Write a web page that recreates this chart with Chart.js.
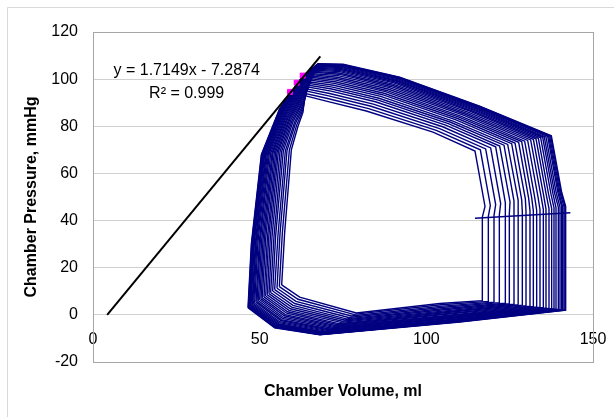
<!DOCTYPE html>
<html>
<head>
<meta charset="utf-8">
<script src="https://cdn.jsdelivr.net/npm/chart.js@4.4.0/dist/chart.umd.min.js"></script>
<style>
  html, body { margin: 0; padding: 0; background: #fff; }
</style>
</head>
<body>
<canvas id="pvChart" width="614" height="417"></canvas>
<script>
// PV loops during the occlusion, largest (outer) first
const loopVolumes = [
  [46.5, 54.5, 68.0, 110.0, 141.8, 141.8, 140.6, 137.5, 116.0, 92.0, 75.0, 67.5, 63.0, 56.0, 50.5, 47.5, 46.5],
  [46.6, 54.6, 68.1, 109.9, 141.6, 141.6, 140.4, 137.3, 115.9, 91.9, 75.0, 67.5, 63.0, 56.1, 50.6, 47.6, 46.6],
  [46.7, 54.7, 68.2, 109.9, 141.3, 141.3, 140.1, 137.0, 115.7, 91.8, 74.9, 67.4, 63.0, 56.1, 50.7, 47.7, 46.7],
  [46.9, 54.8, 68.4, 109.8, 140.9, 140.9, 139.8, 136.7, 115.5, 91.7, 74.8, 67.4, 63.0, 56.2, 50.8, 47.9, 46.9],
  [47.0, 54.9, 68.6, 109.7, 140.6, 140.6, 139.5, 136.4, 115.3, 91.5, 74.8, 67.3, 63.0, 56.3, 51.0, 48.0, 47.0],
  [47.2, 55.0, 68.8, 109.6, 140.1, 140.1, 139.0, 135.9, 115.0, 91.3, 74.7, 67.2, 63.0, 56.4, 51.1, 48.2, 47.2],
  [47.4, 55.2, 69.0, 109.5, 139.6, 139.6, 138.5, 135.4, 114.7, 91.1, 74.6, 67.1, 63.0, 56.5, 51.3, 48.4, 47.4],
  [47.7, 55.4, 69.3, 109.3, 138.9, 138.9, 138.0, 134.9, 114.4, 90.9, 74.4, 67.0, 63.0, 56.6, 51.5, 48.7, 47.7],
  [47.9, 55.6, 69.5, 109.2, 138.3, 138.3, 137.4, 134.3, 114.0, 90.6, 74.3, 66.9, 63.0, 56.8, 51.8, 48.9, 47.9],
  [48.2, 55.8, 69.9, 109.0, 137.6, 137.6, 136.7, 133.6, 113.6, 90.3, 74.2, 66.8, 63.0, 56.9, 52.0, 49.2, 48.2],
  [48.5, 56.0, 70.2, 108.8, 136.8, 136.8, 136.0, 132.9, 113.2, 90.0, 74.0, 66.7, 63.0, 57.1, 52.3, 49.5, 48.5],
  [48.9, 56.3, 70.6, 108.6, 135.9, 135.9, 135.2, 132.1, 112.7, 89.7, 73.8, 66.6, 63.0, 57.3, 52.6, 49.9, 48.9],
  [49.2, 56.5, 71.0, 108.4, 135.1, 135.1, 134.4, 131.3, 112.2, 89.3, 73.7, 66.4, 63.0, 57.5, 52.9, 50.2, 49.2],
  [49.6, 56.8, 71.4, 108.1, 134.1, 134.1, 133.5, 130.4, 111.7, 88.9, 73.5, 66.3, 63.0, 57.7, 53.3, 50.6, 49.6],
  [50.0, 57.1, 71.9, 107.9, 133.1, 133.1, 132.5, 129.5, 111.1, 88.5, 73.3, 66.1, 63.0, 57.9, 53.7, 51.0, 50.0],
  [50.4, 57.4, 72.3, 107.7, 132.1, 132.1, 131.6, 128.6, 110.5, 88.1, 73.1, 65.9, 63.0, 58.1, 54.0, 51.4, 50.4],
  [50.8, 57.7, 72.7, 107.4, 131.1, 131.1, 130.7, 127.7, 110.0, 87.7, 72.9, 65.8, 63.0, 58.4, 54.4, 51.8, 50.8],
  [51.3, 58.1, 73.2, 107.2, 129.9, 129.9, 129.7, 126.6, 109.4, 87.3, 72.6, 65.6, 63.0, 58.6, 54.8, 52.3, 51.3],
  [51.8, 58.4, 73.7, 106.9, 128.8, 128.8, 128.6, 125.6, 108.7, 86.8, 72.4, 65.4, 63.0, 58.9, 55.2, 52.7, 51.8],
  [52.3, 58.8, 74.3, 106.6, 127.6, 127.6, 127.5, 124.4, 108.0, 86.3, 72.2, 65.2, 63.0, 59.1, 55.6, 53.2, 52.3],
  [52.8, 59.2, 74.8, 106.3, 126.3, 126.3, 126.3, 123.3, 107.3, 85.8, 71.9, 65.0, 63.0, 59.4, 56.1, 53.7, 52.8],
  [53.3, 59.6, 75.4, 106.0, 124.9, 124.9, 125.1, 122.0, 106.6, 85.3, 71.6, 64.8, 63.0, 59.7, 56.6, 54.3, 53.3],
  [53.9, 60.0, 76.0, 105.6, 123.6, 123.6, 123.8, 120.8, 105.8, 84.7, 71.4, 64.6, 63.0, 60.0, 57.1, 54.8, 53.9],
  [54.5, 60.5, 76.7, 105.2, 121.9, 121.9, 122.3, 119.3, 104.9, 84.1, 71.0, 64.3, 63.0, 60.4, 57.7, 55.5, 54.5],
  [55.2, 60.9, 77.5, 104.8, 120.3, 120.3, 120.8, 117.8, 104.0, 83.4, 70.7, 64.1, 63.0, 60.7, 58.2, 56.1, 55.2],
  [55.9, 61.5, 78.2, 104.4, 118.6, 118.6, 119.2, 116.2, 103.0, 82.7, 70.4, 63.8, 63.0, 61.1, 58.9, 56.8, 55.9],
  [56.6, 62.0, 79.0, 104.0, 116.8, 116.8, 117.6, 114.6, 102.0, 82.0, 70.0, 63.5, 63.0, 61.5, 59.5, 57.5, 56.6]
];
const loopPressures = [
  [3.0, -5.5, -8.5, -3.0, 2.0, 46.0, 52.0, 76.0, 88.5, 100.8, 106.3, 106.5, 101.5, 87.5, 68.0, 30.0, 3.0],
  [3.1, -5.4, -8.4, -2.9, 2.0, 46.0, 51.9, 75.9, 88.4, 100.7, 106.1, 106.4, 101.3, 87.4, 68.0, 30.1, 3.1],
  [3.2, -5.2, -8.3, -2.8, 2.1, 45.9, 51.9, 75.9, 88.3, 100.5, 106.0, 106.2, 101.2, 87.4, 68.0, 30.1, 3.2],
  [3.3, -5.0, -8.2, -2.7, 2.1, 45.8, 51.8, 75.8, 88.1, 100.3, 105.8, 106.0, 101.0, 87.2, 68.1, 30.2, 3.3],
  [3.5, -4.9, -8.0, -2.6, 2.2, 45.8, 51.7, 75.7, 87.9, 100.1, 105.5, 105.8, 100.7, 87.1, 68.1, 30.3, 3.5],
  [3.7, -4.6, -7.8, -2.5, 2.3, 45.7, 51.6, 75.5, 87.7, 99.8, 105.2, 105.6, 100.4, 87.0, 68.1, 30.4, 3.7],
  [3.9, -4.3, -7.7, -2.3, 2.4, 45.6, 51.5, 75.4, 87.5, 99.5, 104.9, 105.3, 100.1, 86.8, 68.2, 30.5, 3.9],
  [4.1, -4.0, -7.4, -2.1, 2.5, 45.5, 51.3, 75.3, 87.2, 99.2, 104.5, 105.0, 99.7, 86.6, 68.2, 30.6, 4.1],
  [4.4, -3.7, -7.2, -1.9, 2.6, 45.4, 51.2, 75.1, 87.0, 98.8, 104.1, 104.6, 99.3, 86.5, 68.3, 30.7, 4.4],
  [4.6, -3.3, -6.9, -1.7, 2.7, 45.2, 51.0, 74.9, 86.6, 98.4, 103.6, 104.2, 98.9, 86.2, 68.3, 30.9, 4.6],
  [4.9, -2.9, -6.6, -1.4, 2.8, 45.1, 50.8, 74.7, 86.3, 97.9, 103.2, 103.8, 98.4, 86.0, 68.4, 31.0, 4.9],
  [5.3, -2.4, -6.3, -1.2, 2.9, 44.9, 50.6, 74.5, 85.9, 97.4, 102.6, 103.3, 97.9, 85.7, 68.5, 31.2, 5.3],
  [5.6, -2.0, -6.0, -0.9, 3.1, 44.8, 50.4, 74.2, 85.5, 96.9, 102.1, 102.9, 97.3, 85.5, 68.5, 31.4, 5.6],
  [6.0, -1.5, -5.6, -0.6, 3.2, 44.6, 50.1, 74.0, 85.1, 96.4, 101.5, 102.3, 96.7, 85.2, 68.6, 31.6, 6.0],
  [6.4, -1.0, -5.2, -0.3, 3.4, 44.4, 49.9, 73.7, 84.7, 95.8, 100.8, 101.8, 96.1, 84.9, 68.7, 31.8, 6.4],
  [6.8, -0.4, -4.9, 0.0, 3.6, 44.2, 49.7, 73.5, 84.2, 95.2, 100.2, 101.2, 95.5, 84.6, 68.8, 32.0, 6.8],
  [7.2, 0.1, -4.5, 0.4, 3.7, 44.1, 49.4, 73.2, 83.8, 94.7, 99.6, 100.7, 94.8, 84.3, 68.9, 32.2, 7.2],
  [7.6, 0.7, -4.1, 0.7, 3.9, 43.9, 49.2, 72.9, 83.3, 94.0, 98.9, 100.1, 94.1, 83.9, 69.0, 32.4, 7.6],
  [8.0, 1.3, -3.7, 1.1, 4.1, 43.7, 48.9, 72.6, 82.8, 93.4, 98.2, 99.5, 93.4, 83.6, 69.0, 32.6, 8.0],
  [8.5, 1.9, -3.2, 1.4, 4.3, 43.4, 48.6, 72.3, 82.2, 92.7, 97.4, 98.8, 92.7, 83.2, 69.1, 32.9, 8.5],
  [9.0, 2.6, -2.7, 1.8, 4.5, 43.2, 48.3, 72.0, 81.7, 91.9, 96.6, 98.1, 91.9, 82.9, 69.2, 33.1, 9.0],
  [9.5, 3.3, -2.2, 2.3, 4.7, 43.0, 48.0, 71.6, 81.1, 91.2, 95.8, 97.4, 91.0, 82.4, 69.4, 33.4, 9.5],
  [10.1, 4.0, -1.7, 2.7, 4.9, 42.7, 47.6, 71.3, 80.5, 90.4, 94.9, 96.6, 90.2, 82.0, 69.5, 33.7, 10.1],
  [10.7, 4.8, -1.1, 3.2, 5.2, 42.4, 47.2, 70.8, 79.8, 89.4, 93.9, 95.8, 89.2, 81.5, 69.6, 34.0, 10.7],
  [11.3, 5.7, -0.5, 3.7, 5.4, 42.1, 46.8, 70.4, 79.0, 88.5, 92.9, 94.9, 88.2, 81.1, 69.7, 34.3, 11.3],
  [12.0, 6.6, 0.2, 4.3, 5.7, 41.8, 46.4, 70.0, 78.3, 87.5, 91.8, 93.9, 87.1, 80.5, 69.9, 34.7, 12.0],
  [12.7, 7.5, 0.8, 4.8, 6.0, 41.5, 46.0, 69.5, 77.5, 86.5, 90.7, 93.0, 86.0, 80.0, 70.0, 35.0, 12.7]
];

// stray trace across the right side near 42 mmHg
const stepVolumes = [114.6, 143.2];
const stepPressures = [41.0, 43.3];

// end-systolic points used for the fit
const esVolumes = [59.1, 61.1, 62.9];
const esPressures = [94.6, 98.5, 101.5];

// ESPVR trendline ends
const fitVolumes = [4.25, 68.2];
const fitPressures = [0, 109.7];

const xTicks = [0, 50, 100, 150];
const yTicks = [-20, 0, 20, 40, 60, 80, 100, 120];

const fitLabel = 'y = 1.7149x - 7.2874';
const r2Label = 'R\u00b2 = 0.999';

const navy = '#000080';
const tickFont = { family: "'Liberation Sans', Arial, sans-serif", size: 16 };
const titleFont = { family: "'Liberation Sans', Arial, sans-serif", size: 16, weight: 'bold' };

const toPoints = (xs, ys) => xs.map((x, i) => ({ x, y: ys[i] }));

const datasets = loopVolumes.map((vols, i) => ({
  data: toPoints(vols, loopPressures[i]),
  showLine: true,
  borderColor: navy,
  borderWidth: 1.4,
  pointRadius: 0,
  order: 3
}));
datasets.push({
  data: toPoints(stepVolumes, stepPressures),
  showLine: true, borderColor: navy, borderWidth: 1.4, pointRadius: 0, order: 3
});
datasets.push({
  data: toPoints(esVolumes, esPressures),
  showLine: false, pointStyle: 'rect', pointRadius: 3.5,
  pointBackgroundColor: '#ff00ff', pointBorderColor: '#ff00ff', order: 2
});
datasets.push({
  data: toPoints(fitVolumes, fitPressures),
  showLine: true, borderColor: '#000', borderWidth: 2, pointRadius: 0, order: 1
});

const framePlugin = {
  id: 'frame',
  beforeDraw(chart) {
    const { ctx } = chart;
    ctx.save();
    ctx.strokeStyle = '#d9d9d9';
    ctx.lineWidth = 1;
    ctx.beginPath();
    ctx.moveTo(7.5, chart.height);
    ctx.lineTo(7.5, 7.5);
    ctx.lineTo(chart.width, 7.5);
    ctx.stroke();
    ctx.restore();
  },
  beforeDatasetsDraw(chart) {
    const { ctx, chartArea: a } = chart;
    ctx.save();
    ctx.strokeStyle = '#a6a6a6';
    ctx.lineWidth = 1;
    ctx.strokeRect(Math.round(a.left) + 0.5, Math.round(a.top) + 0.5, Math.round(a.width), Math.round(a.height));
    ctx.restore();
  }
};

const labelPlugin = {
  id: 'fitLabel',
  afterDatasetsDraw(chart) {
    const { ctx, scales: { x, y } } = chart;
    ctx.save();
    ctx.fillStyle = '#000';
    ctx.font = "16px 'Liberation Sans', Arial, sans-serif";
    ctx.textAlign = 'center';
    ctx.textBaseline = 'middle';
    ctx.fillText(fitLabel, x.getPixelForValue(28.1), y.getPixelForValue(103.6));
    ctx.fillText(r2Label, x.getPixelForValue(28.1), y.getPixelForValue(93.9));
    ctx.restore();
  }
};

new Chart(document.getElementById('pvChart'), {
  type: 'scatter',
  data: { datasets },
  options: {
    responsive: false,
    animation: false,
    devicePixelRatio: 1,
    layout: { padding: { left: 12, right: 21, top: 32, bottom: 0 } },
    plugins: { legend: { display: false }, tooltip: { enabled: false } },
    scales: {
      x: {
        type: 'linear', position: 'bottom', min: 0, max: 150,
        ticks: { display: false },
        grid: { display: false },
        border: { display: false },
        title: { display: true, text: 'Chamber Volume, ml', color: '#000', font: titleFont, padding: { top: 0, bottom: 16 } },
        afterFit: s => { s.height = 55; }
      },
      xZero: {
        type: 'linear', axis: 'x', position: { y: 0 }, min: 0, max: 150,
        afterBuildTicks: s => { s.ticks = xTicks.map(v => ({ value: v })); },
        ticks: { color: '#000', font: tickFont, padding: 0 },
        grid: { display: false, drawTicks: true, tickLength: 15 },
        border: { display: false }
      },
      y: {
        type: 'linear', min: -20, max: 120,
        afterBuildTicks: s => { s.ticks = yTicks.map(v => ({ value: v })); },
        ticks: { color: '#000', font: tickFont, padding: 15 },
        grid: { color: '#d0d0d0', drawTicks: false },
        border: { color: '#a6a6a6' },
        title: { display: true, text: 'Chamber Pressure, mmHg', color: '#000', font: titleFont, padding: { top: 10, bottom: 0 } },
        afterFit: s => { s.width = 81; }
      }
    }
  },
  plugins: [framePlugin, labelPlugin]
});
</script>
</body>
</html>
